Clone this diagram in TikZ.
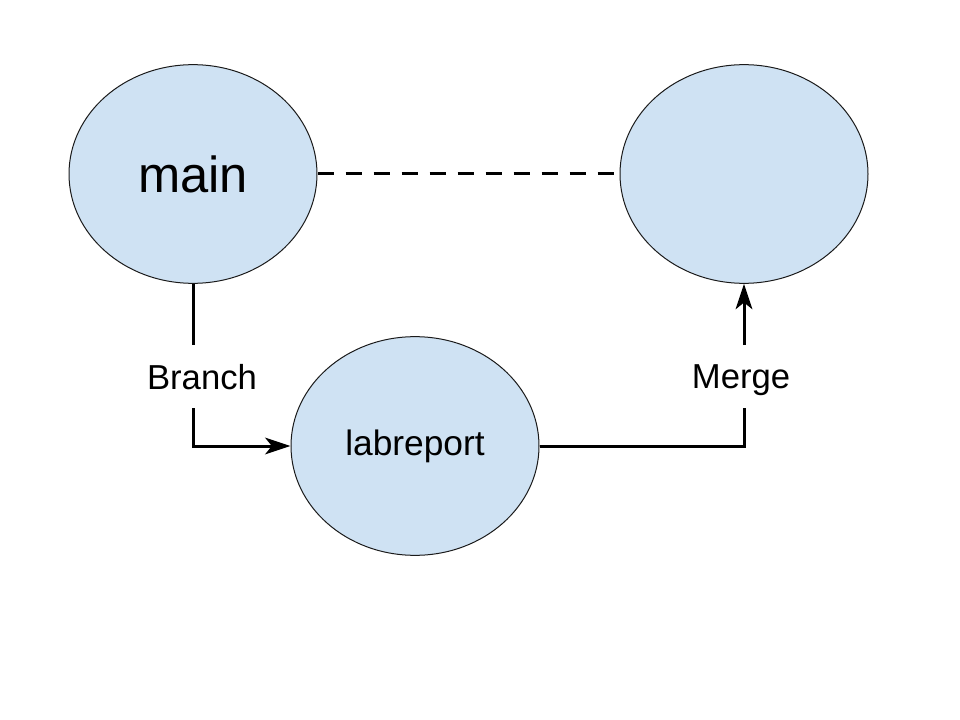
\documentclass[tikz,border=0pt]{standalone}
\usepackage{fontspec}
\setmainfont{Liberation Sans}
\usetikzlibrary{shapes.geometric,arrows.meta}
\definecolor{bubble}{HTML}{CFE2F3}
\definecolor{edge}{HTML}{1A1A1A}
\begin{document}
\begin{tikzpicture}[x=0.75pt,y=-0.75pt,
  bubblenode/.style={ellipse,draw=edge,line width=0.75pt,fill=bubble,
    minimum width=186pt,minimum height=164pt,inner sep=0pt},
  conn/.style={line width=2.25pt,black},
  lbl/.style={font=\fontsize{26}{30}\selectfont,inner sep=0pt,anchor=base},
  tip/.style={-{Stealth[length=19pt,width=12.5pt,inset=5pt]}}]
\useasboundingbox (0,0) rectangle (960,720);
\node[bubblenode,font=\fontsize{38}{42}\selectfont] (main) at (193,174) {main};
\node[bubblenode] (merged) at (744,174) {};
\node[bubblenode,font=\fontsize{26.5}{30}\selectfont] (lab) at (415,446) {labreport};
\draw[conn,dash pattern=on 12pt off 9pt] (main.east) -- (merged.west);
\coordinate (b1) at (193,345);
\coordinate (b2) at (193,408);
\coordinate (bc) at (193,446);
\draw[conn] (main.south) -- (b1);
\draw[conn,tip] (b2) -- (bc) -- (lab.west);
\node[lbl] (branch) at (202,389) {Branch};
\coordinate (m1) at (744,408);
\coordinate (m2) at (744,345);
\coordinate (mc) at (744,446);
\draw[conn] (lab.east) -- (mc) -- (m1);
\draw[conn,tip] (m2) -- (merged.south);
\node[lbl] (merge) at (741,388) {Merge};
\end{tikzpicture}
\end{document}
